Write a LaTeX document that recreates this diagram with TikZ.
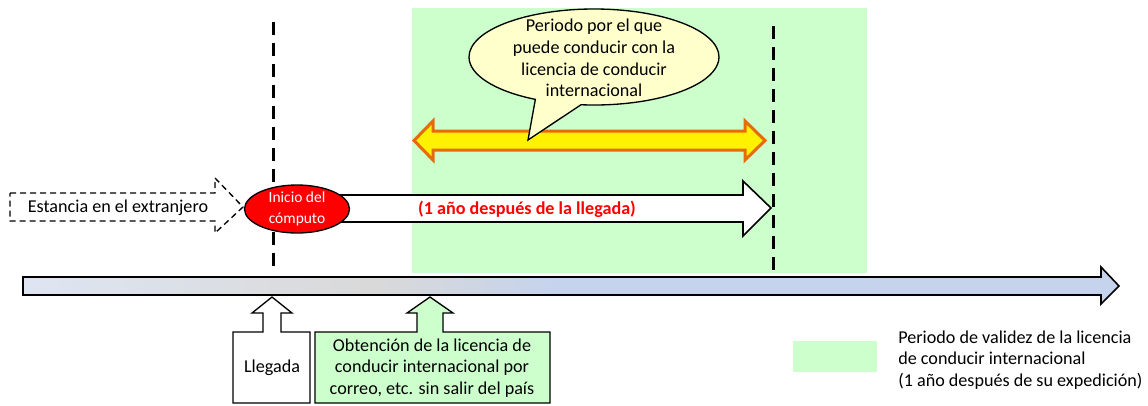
\documentclass[tikz,border=0pt]{standalone}
\usepackage{fontspec}
\setmainfont{Carlito}
\usetikzlibrary{shapes.geometric,shapes.callouts}

\definecolor{validgreen}{HTML}{CCFFCC}
\definecolor{bubbleyellow}{HTML}{FFFFCC}
\definecolor{edgeorange}{HTML}{E46C0A}
\definecolor{tlleft}{HTML}{DEE5F2}
\definecolor{tlmid}{HTML}{D9D9D9}
\definecolor{tlright}{HTML}{C5D3ED}
\pgfdeclarehorizontalshading{timeline}{100bp}{color(0bp)=(tlleft); color(25bp)=(tlleft);
  color(41bp)=(tlmid); color(49.5bp)=(tlright); color(100bp)=(tlright)}

\begin{document}
\begin{tikzpicture}[x=0.75pt,y=-0.75pt,
  txt/.style={font=\fontsize{13.6}{16.3}\selectfont, align=center, inner sep=0pt},
  marker/.style={line width=2.25pt, dash pattern=on 9.75pt off 6pt},
  callbox/.style={draw=black, line width=1pt}]

  \useasboundingbox (0,0) rectangle (1148,405);

  % --- Validity period (green area) ---
  \fill[validgreen] (412,8) rectangle (867,273);

  % --- Dashed markers ---
  \coordinate (arriveTop) at (273,22);
  \coordinate (arriveBot) at (273,273);
  \coordinate (endTop) at (773,26);
  \coordinate (endBot) at (773,273);
  \draw[marker] (arriveTop) -- (arriveBot);
  \draw[marker] (endTop) -- (endBot);

  % --- Time axis ---
  \shadedraw[shading=timeline, line width=1.2pt, line join=miter]
    (23,277) -- (1101,277) -- (1101,267) -- (1119,286) -- (1101,304)
    -- (1101,295) -- (23,295) -- cycle;

  % --- Stay abroad (dashed arrow) ---
  \draw[dash pattern=on 4.5pt off 3pt, line width=1pt, fill=white]
    (10,193) -- (215,193) -- (215,178) -- (243,207) -- (215,233)
    -- (215,221) -- (10,221) -- cycle;
  \node[txt] (stay) at (118,208) {Estancia en el extranjero};

  % --- One year after arrival ---
  \coordinate (yearEnd) at (771,208);
  \draw[line width=1.2pt, fill=white, line join=miter]
    (320,195) -- (743,195) -- (743,181) -- (yearEnd) -- (743,236)
    -- (743,222) -- (320,222) -- cycle;
  \node[txt, font=\fontsize{13.6}{16.3}\selectfont\bfseries, text=red] (year) at (527,209)
    {(1 año después de la llegada)};

  % --- Start of count ---
  \node[ellipse, draw, line width=1pt, fill=red, minimum width=78.75pt,
    minimum height=36pt, inner sep=0pt, text=white, align=center,
    font=\fontsize{11.6}{15.5}\selectfont] (start) at (297,209) {Inicio del\\cómputo};

  % --- Driving period (double arrow) ---
  \draw[line width=2.25pt, draw=edgeorange, fill=yellow, line join=miter]
    (414,140.5) -- (433,121) -- (433,131) -- (745,131) -- (745,121) -- (765,140.5)
    -- (745,160) -- (745,150) -- (433,150) -- (433,160) -- cycle;

  % --- Speech bubble ---
  \coordinate (tip) at (528,140);
  \node[ellipse callout, draw, line width=1pt, fill=bubbleyellow,
    minimum width=187.5pt, minimum height=72pt, callout pointer arc=22,
    callout absolute pointer={(tip)}] (bubble) at (594,57) {};
  \node[txt] (bubbletext) at (594,58)
    {Periodo por el que\\puede conducir con la\\licencia de conducir\\internacional};

  % --- Arrival callout ---
  \draw[callbox, fill=white]
    (233,403) -- (233,332) -- (263,332) -- (263,313) -- (252,313) -- (272,297)
    -- (292,313) -- (281,313) -- (281,332) -- (310,332) -- (310,403) -- cycle;
  \node[txt] (arrival) at (272,368) {Llegada};

  % --- Licence by mail callout ---
  \draw[callbox, fill=validgreen]
    (315,403) -- (315,332) -- (417,332) -- (417,313) -- (407,313) -- (430,297)
    -- (453,313) -- (443,313) -- (443,332) -- (550,332) -- (550,403) -- cycle;
  \node[txt] (licence) at (432,368)
    {Obtención de la licencia de\\conducir internacional por\\correo, etc. sin salir del país};

  % --- Legend ---
  \fill[validgreen] (793,341) rectangle (877,372);
  \node[txt, anchor=west, align=left] (legend) at (898,360)
    {Periodo de validez de la licencia\\de conducir internacional\\(1 año después de su expedición)};

\end{tikzpicture}
\end{document}
